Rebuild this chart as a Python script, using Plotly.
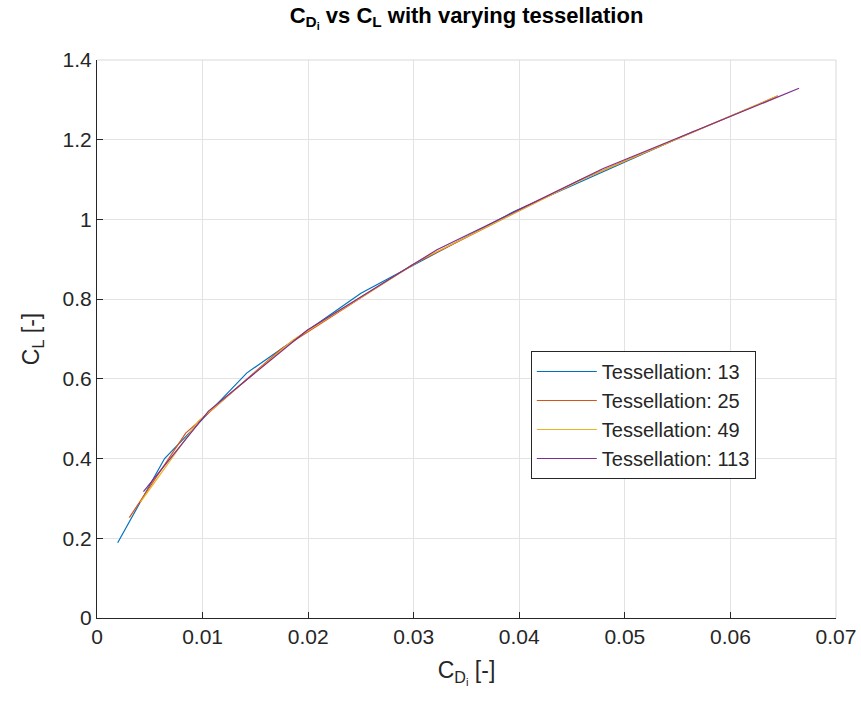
import plotly.graph_objects as go

# Data
names = ["Tessellation: 13", "Tessellation: 25", "Tessellation: 49", "Tessellation: 113"]
cdi_13 = [0.00196, 0.0064, 0.0142, 0.0250, 0.0395, 0.0566]
cl_13 = [0.189, 0.400, 0.615, 0.815, 1.020, 1.222]
cdi_25 = [0.00306, 0.0084, 0.01745, 0.0299, 0.0457, 0.0645]
cl_25 = [0.252, 0.464, 0.675, 0.887, 1.098, 1.310]
cdi_49 = [0.0041, 0.0096, 0.0186, 0.0309, 0.0464, 0.0645]
cl_49 = [0.290, 0.494, 0.698, 0.902, 1.106, 1.310]
cdi_113 = [0.0044, 0.01056, 0.0199, 0.0322, 0.0479, 0.0665]
cl_113 = [0.317, 0.519, 0.722, 0.924, 1.127, 1.329]
colors = ["#0072BD", "#D95319", "#EDB120", "#7E2F8E"]

xs = [cdi_13, cdi_25, cdi_49, cdi_113]
ys = [cl_13, cl_25, cl_49, cl_113]

x_ticks = [0, 0.01, 0.02, 0.03, 0.04, 0.05, 0.06, 0.07]
x_tick_text = ["0", "0.01", "0.02", "0.03", "0.04", "0.05", "0.06", "0.07"]
y_ticks = [0, 0.2, 0.4, 0.6, 0.8, 1.0, 1.2, 1.4]
y_tick_text = ["0", "0.2", "0.4", "0.6", "0.8", "1", "1.2", "1.4"]

fig = go.Figure()
for x, y, n, c in zip(xs, ys, names, colors):
    fig.add_trace(go.Scatter(x=x, y=y, mode="lines", name=n,
                             line=dict(color=c, width=1.2)))

font_family = "Liberation Sans, Arial, sans-serif"
fig.update_layout(
    width=861, height=711,
    margin=dict(l=97, r=25, t=60, b=93, autoexpand=False),
    paper_bgcolor="white", plot_bgcolor="white",
    font=dict(family=font_family, color="#262626", size=20),
    title=dict(text="<b>C<sub>D<sub>i</sub></sub> vs C<sub>L</sub> with varying tessellation</b>",
               x=(97 + 836) / 2 / 861, xanchor="center", y=0.99, yanchor="top",
               font=dict(size=22, color="#000000")),
    xaxis=dict(range=[0, 0.07], tickvals=x_ticks, ticktext=x_tick_text,
               automargin=False,
               showgrid=True, gridcolor="#e3e3e3", gridwidth=1,
               zeroline=False, showline=True, linecolor="#262626", linewidth=1,
               ticks="inside", ticklen=6, tickcolor="#262626",
               tickfont=dict(size=21, color="#262626"),
               title=dict(text="C<sub>D<sub>i</sub></sub> [-]", font=dict(size=23, color="#262626"),
                          standoff=14)),
    yaxis=dict(range=[0, 1.4], tickvals=y_ticks, ticktext=y_tick_text,
               automargin=False,
               showgrid=True, gridcolor="#e3e3e3", gridwidth=1,
               zeroline=False, showline=True, linecolor="#262626", linewidth=1,
               ticks="inside", ticklen=6, tickcolor="#262626",
               tickfont=dict(size=21, color="#262626"),
               title=dict(text="C<sub>L</sub> [-]", font=dict(size=23, color="#262626"),
                          standoff=16)),
    legend=dict(x=0.587, y=0.4785, xanchor="left", yanchor="top",
                bgcolor="white", bordercolor="#262626", borderwidth=1,
                font=dict(size=20, color="#262626"),
                tracegroupgap=0, itemwidth=60),
    showlegend=True,
)

# light top/right box edges
fig.add_shape(type="line", xref="paper", yref="paper", x0=0, x1=1, y0=1, y1=1,
              line=dict(color="#d9d9d9", width=1))
fig.add_shape(type="line", xref="paper", yref="paper", x0=1, x1=1, y0=0, y1=1,
              line=dict(color="#d9d9d9", width=1))

fig.write_html("out.html")
